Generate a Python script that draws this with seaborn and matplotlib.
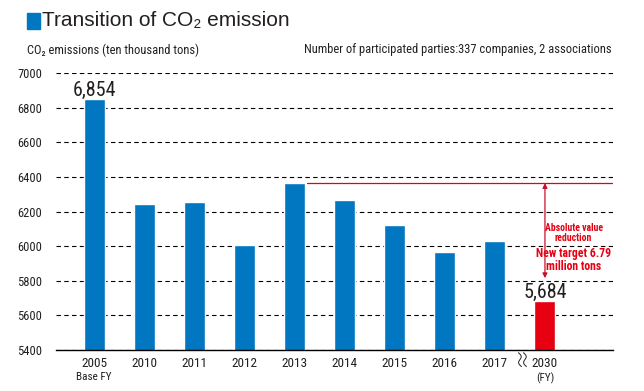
import numpy as np
import matplotlib
matplotlib.use("Agg")
import matplotlib.pyplot as plt
import seaborn as sns

# ---------------- DATA ----------------
years = ["2005", "2010", "2011", "2012", "2013", "2014", "2015", "2016", "2017", "2030"]
emissions = [6854, 6242, 6254, 6008, 6365, 6269, 6121, 5969, 6031, 5684]
bar_colors = ["#0077c0"] * 9 + ["#e60012"]
yticks = [5400, 5600, 5800, 6000, 6200, 6400, 6600, 6800, 7000]
peak_2013 = 6365
target_2030 = 5684

BLUE = "#0077c0"
RED = "#e60012"
TXT = "#231f20"
COND = ["Roboto Condensed", "Archivo Narrow", "Liberation Sans Narrow", "DejaVu Sans"]
WIDE = ["Liberation Sans", "Arimo", "Roboto", "DejaVu Sans"]

sns.set_theme(style="white")
plt.rcParams["font.family"] = COND

fig = plt.figure(figsize=(6.44, 3.91), dpi=100)
ax = fig.add_axes([0.087, 0.105, 0.865, 0.7075])

sns.barplot(x=years, y=emissions, hue=years, palette=bar_colors, legend=False,
            width=0.42, saturation=1, ax=ax, zorder=3)

ax.set_ylim(5400, 7000)
ax.set_xlim(-0.76, 10.36)
ax.set_yticks(yticks)
ax.set_yticklabels([str(v) for v in yticks], fontsize=9, color=TXT)
ax.yaxis.grid(True, color="black", linestyle=(0, (4, 3)), linewidth=0.8)
ax.set_axisbelow(True)
ax.tick_params(axis="y", length=0, pad=10)
ax.tick_params(axis="x", length=0, pad=5, labelsize=9.5, labelcolor=TXT)
ax.set_xlabel("")
ax.set_ylabel("")
for s in ["left", "right", "top"]:
    ax.spines[s].set_visible(False)
ax.spines["bottom"].set_color("black")
ax.spines["bottom"].set_linewidth(1.0)
ax.spines["bottom"].set_zorder(4)

# sub labels under ticks
ax.text(0, -0.08, "Base FY", transform=ax.get_xaxis_transform(), ha="center", va="top",
        fontsize=8, color=TXT)
ax.text(9, -0.08, "(FY)", transform=ax.get_xaxis_transform(), ha="center", va="top",
        fontsize=8, color=TXT)

# axis break squiggles between 2017 and 2030
tt = np.linspace(0, 1, 40)
for off in [-0.05, 0.05]:
    xs = 8.55 + off + 0.04 * np.sin(tt * 2 * np.pi) + (tt - 0.5) * 0.06
    ys = -0.01 - tt * 0.05
    ax.plot(xs, ys, color=TXT, linewidth=0.7, transform=ax.get_xaxis_transform(), clip_on=False)

# value labels
ax.text(0, emissions[0] + 18, "6,854", ha="center", va="baseline", fontsize=14.5, color=TXT)
ax.text(9, emissions[9] + 18, "5,684", ha="center", va="baseline", fontsize=14.5, color=TXT)

# reduction line and arrow
ax.plot([4.24, 10.36], [peak_2013, peak_2013], color=RED, linewidth=0.9, zorder=4)
ax.annotate("", xy=(9, peak_2013), xytext=(9, 5815),
            arrowprops=dict(arrowstyle="<|-|>", color="#c8102e", lw=0.9,
                            mutation_scale=7, shrinkA=0, shrinkB=0), zorder=5)
ax.text(9.57, 6075, "Absolute value\nreduction", ha="center", va="center", fontsize=7,
        fontweight="bold", color=RED, linespacing=1.0)
ax.text(9.57, 5920, "New target 6.79\nmillion tons", ha="center", va="center", fontsize=8.5,
        fontweight="bold", color=RED, linespacing=1.05)

# title block
fig.patches.append(plt.Rectangle((27 / 644, 1 - 29 / 391), 13 / 644, 16 / 391,
                                 transform=fig.transFigure, color=BLUE))
fig.text(42 / 644, 1 - 20 / 391, "Transition of CO₂ emission", ha="left", va="center",
         fontsize=15, family=WIDE, color=TXT)
fig.text(27 / 644, 1 - 50 / 391, "CO₂ emissions (ten thousand tons)", ha="left",
         va="center", fontsize=9, color=TXT)
fig.text(612 / 644, 1 - 50 / 391, "Number of participated parties:337 companies, 2 associations",
         ha="right", va="center", fontsize=9, color=TXT)

fig.savefig("out.png", dpi=100)
